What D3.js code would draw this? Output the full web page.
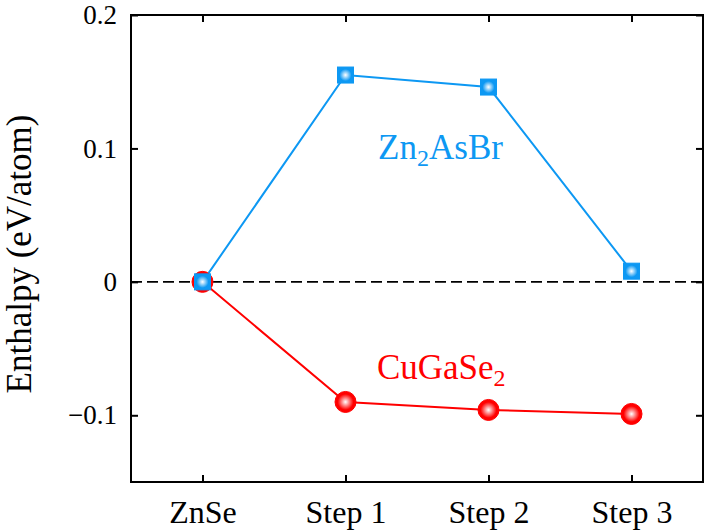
<!DOCTYPE html>
<html>
<head>
<meta charset="utf-8">
<script src="https://cdn.jsdelivr.net/npm/d3@7"></script>
<style>
  html, body { margin: 0; padding: 0; background: #fff; }
  svg { display: block; }
  text { font-family: "Liberation Serif", "Times New Roman", serif; }
</style>
</head>
<body>
<script>
const categories = ["ZnSe", "Step 1", "Step 2", "Step 3"];
const zn2AsBr = [0, 0.155, 0.146, 0.008];
const cuGaSe2 = [0, -0.090, -0.096, -0.099];
const yTicks = [-0.1, 0, 0.1, 0.2];
const yDomain = [-0.15, 0.2];

(function () {
const W = 709, H = 530;
const pL = 131, pR = 703, pT = 15, pB = 482;
const blue = "#0d98f3", red = "#ff0000";
const FF = "Liberation Serif";

const svg = d3.select("body").append("svg").attr("width", W).attr("height", H);
const defs = svg.append("defs");
function grad(id, col) {
  const g = defs.append("radialGradient").attr("id", id).attr("cx", "50%").attr("cy", "50%").attr("r", "50%");
  g.append("stop").attr("offset", "0%").attr("stop-color", "#ffffff");
  g.append("stop").attr("offset", "75%").attr("stop-color", col);
  g.append("stop").attr("offset", "100%").attr("stop-color", col);
}
grad("gRed", red);
grad("gBlue", blue);

const x = d3.scalePoint().domain(categories).range([pL, pR]).padding(0.5);
const xi = d3.scaleLinear().domain([-0.5, 3.5]).range([pL, pR]);
const y = d3.scaleLinear().domain(yDomain).range([pB, pT]);
const fmt = v => v === 0 ? "0" : d3.format(".1f")(v);

// zero dashed line
svg.append("line").attr("x1", pL).attr("x2", pR).attr("y1", y(0)).attr("y2", y(0))
  .attr("stroke", "#000").attr("stroke-width", 1.6).attr("stroke-dasharray", "11,5");

// axes
const ax = svg.append("g");
const gL = ax.append("g").attr("transform", `translate(${pL},0)`)
  .call(d3.axisLeft(y).tickValues(yTicks).tickFormat(fmt).tickSizeInner(-7).tickSizeOuter(0).tickPadding(14));
ax.append("g").attr("transform", `translate(${pR},0)`)
  .call(d3.axisRight(y).tickValues(yTicks).tickFormat("").tickSizeInner(-7).tickSizeOuter(0));
const gB = ax.append("g").attr("transform", `translate(0,${pB})`)
  .call(d3.axisBottom(x).tickSizeInner(-7).tickSizeOuter(0).tickPadding(18));
ax.append("g").attr("transform", `translate(0,${pT})`)
  .call(d3.axisTop(x).tickFormat("").tickSizeInner(-7).tickSizeOuter(0));
ax.selectAll(".domain").remove();
ax.selectAll(".tick line").attr("stroke", "#000").attr("stroke-width", 2);
gL.selectAll("text").attr("font-size", 27).attr("font-family", FF).attr("fill", "#000");
gB.selectAll("text").attr("font-size", 32).attr("font-family", FF).attr("fill", "#000");

// frame
svg.append("rect").attr("x", pL).attr("y", pT).attr("width", pR - pL).attr("height", pB - pT)
  .attr("fill", "none").attr("stroke", "#000").attr("stroke-width", 2);

// y label
svg.append("text").attr("transform", `translate(31,254) rotate(-90)`).attr("text-anchor", "middle")
  .attr("font-size", 35).attr("font-family", FF).attr("fill", "#000").text("Enthalpy (eV/atom)");

// lines
const line = d3.line().x((d, i) => x(categories[i])).y(d => y(d));
svg.append("path").datum(cuGaSe2).attr("d", line).attr("fill", "none").attr("stroke", red).attr("stroke-width", 2);
svg.append("path").datum(zn2AsBr).attr("d", line).attr("fill", "none").attr("stroke", blue).attr("stroke-width", 2);

// markers
svg.append("g").selectAll("circle").data(cuGaSe2).join("circle")
  .attr("cx", (d, i) => x(categories[i])).attr("cy", d => y(d)).attr("r", 10.5)
  .attr("fill", "url(#gRed)").attr("stroke", red).attr("stroke-width", 1);
const s = 16;
svg.append("g").selectAll("rect").data(zn2AsBr).join("rect")
  .attr("x", (d, i) => x(categories[i]) - s / 2).attr("y", d => y(d) - s / 2)
  .attr("width", s).attr("height", s)
  .attr("fill", "url(#gBlue)").attr("stroke", blue).attr("stroke-width", 1);

// annotations
function label(txt, sub, rest, xv, yv, col) {
  const t = svg.append("text").attr("x", xi(xv)).attr("y", y(yv)).attr("font-size", 35)
    .attr("font-family", FF).attr("fill", col);
  t.append("tspan").text(txt);
  t.append("tspan").attr("font-size", 24).attr("dy", 7).text(sub);
  if (rest) t.append("tspan").attr("dy", -7).text(rest);
}
label("Zn", "2", "AsBr", 1.228, 0.092, blue);
label("CuGaSe", "2", null, 1.22, -0.073, red);
})();
</script>
</body>
</html>
